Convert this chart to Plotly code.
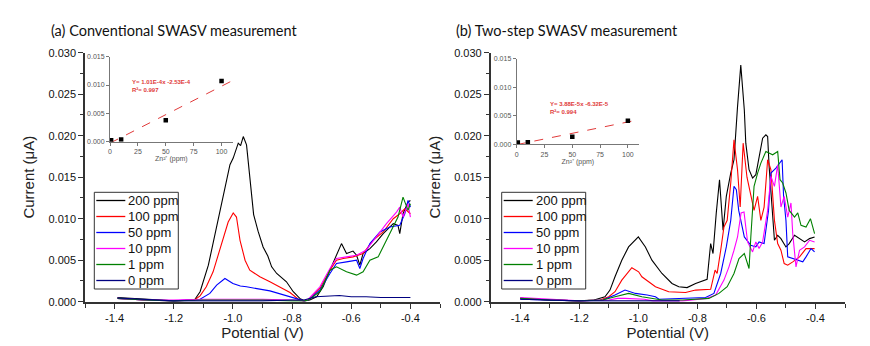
import plotly.graph_objects as go

# ---------------- data ----------------
LABELS = ["200 ppm", "100 ppm", "50 ppm", "10 ppm", "1 ppm", "0 ppm"]

# (a) Conventional SWASV : potential (V) / current (uA)
A200_X = [-1.39, -1.3, -1.2, -1.13, -1.111, -1.083, -1.061, -1.033, -1.01, -0.999, -0.982, -0.974, -0.965,
          -0.954, -0.94, -0.93, -0.915, -0.898, -0.882, -0.869, -0.852, -0.835, -0.819, -0.796, -0.774, -0.757,
          -0.74, -0.717, -0.695, -0.672, -0.655, -0.633, -0.616, -0.594, -0.582, -0.571, -0.56, -0.537, -0.515,
          -0.492, -0.458, -0.442, -0.436, -0.425, -0.408, -0.4]
A200_Y = [0.0005, 0.0003, 0.0001, 0.0002, 0.0012, 0.0044, 0.008, 0.0129, 0.0165, 0.0173, 0.0191, 0.0188, 0.0199,
          0.0189, 0.014, 0.0105, 0.0085, 0.0066, 0.0055, 0.0042, 0.0034, 0.0029, 0.0024, 0.0012, 0.0004, 0.0001,
          0.0002, 0.0006, 0.0018, 0.0038, 0.0052, 0.007, 0.0058, 0.0061, 0.0056, 0.0044, 0.0058, 0.0064, 0.0072,
          0.0082, 0.0094, 0.0092, 0.0082, 0.0106, 0.012, 0.0122]

A100_X = [-1.39, -1.3, -1.2, -1.13, -1.111, -1.09, -1.067, -1.038, -1.016, -0.999, -0.988, -0.976, -0.959,
          -0.943, -0.909, -0.875, -0.841, -0.807, -0.779, -0.762, -0.745, -0.706, -0.672, -0.65, -0.627, -0.594,
          -0.56, -0.526, -0.492, -0.458, -0.436, -0.419, -0.4]
A100_Y = [0.0004, 0.0002, 0.0001, 0.0002, 0.0007, 0.0018, 0.0036, 0.0072, 0.0096, 0.0107, 0.0102, 0.0074, 0.005,
          0.0038, 0.003, 0.0024, 0.0018, 0.0011, 0.0003, 0.0001, 0.0002, 0.0016, 0.0038, 0.005, 0.0052, 0.0054,
          0.0058, 0.0074, 0.0084, 0.01, 0.0106, 0.0112, 0.0106]

A50_X = [-1.39, -1.3, -1.2, -1.13, -1.111, -1.078, -1.055, -1.027, -1.0, -0.975, -0.954, -0.875, -0.807,
         -0.774, -0.76, -0.745, -0.706, -0.672, -0.65, -0.616, -0.582, -0.571, -0.56, -0.537, -0.503, -0.47,
         -0.436, -0.419, -0.408, -0.4]
A50_Y = [0.0004, 0.0002, 0.0001, 0.0002, 0.0003, 0.001, 0.002, 0.0028, 0.0022, 0.0019, 0.0018, 0.0013, 0.0006,
         0.0003, 0.0001, 0.0002, 0.0014, 0.0034, 0.0046, 0.0048, 0.005, 0.0040, 0.0052, 0.007, 0.0084, 0.009,
         0.0092, 0.0106, 0.0122, 0.0114]

A10_X = [-1.39, -1.3, -1.2, -1.1, -1.0, -0.9, -0.8, -0.76, -0.745, -0.706, -0.672, -0.65, -0.616, -0.582,
         -0.55, -0.515, -0.481, -0.447, -0.436, -0.425, -0.408, -0.4]
A10_Y = [0.0004, 0.0002, 0.0002, 0.0003, 0.0003, 0.0003, 0.0002, 0.0001, 0.0003, 0.0018, 0.004, 0.0052, 0.0054,
         0.0056, 0.0062, 0.0078, 0.0094, 0.0108, 0.0114, 0.0102, 0.0118, 0.0102]

A1_X = [-1.39, -1.3, -1.2, -1.1, -1.0, -0.9, -0.8, -0.76, -0.745, -0.706, -0.672, -0.65, -0.616, -0.582, -0.56,
        -0.537, -0.509, -0.481, -0.458, -0.442, -0.425, -0.408, -0.4]
A1_Y = [0.0004, 0.0002, 0.0001, 0.0002, 0.0002, 0.0002, 0.0001, 0.0001, 0.0002, 0.0012, 0.0038, 0.0042, 0.0036,
        0.0032, 0.0036, 0.005, 0.0054, 0.0074, 0.009, 0.0102, 0.0126, 0.011, 0.0118]

A0_X = [-1.39, -1.3, -1.2, -1.1, -1.0, -0.9, -0.8, -0.76, -0.72, -0.68, -0.64, -0.6, -0.55, -0.5, -0.45, -0.4]
A0_Y = [0.00045, 0.0003, 0.0001, 0.0001, 0.0001, 0.0001, 0.0002, 0.0002, 0.0006, 0.0007, 0.00075, 0.0006,
        0.0006, 0.0005, 0.0005, 0.0005]

# (b) Two-step SWASV
B200_X = [-1.4, -1.3, -1.2, -1.15, -1.113, -1.096, -1.079, -1.056, -1.033, -1.0, -0.976, -0.954, -0.92, -0.886,
          -0.863, -0.835, -0.806, -0.767, -0.755, -0.747, -0.736, -0.725, -0.713, -0.702, -0.687, -0.676, -0.664,
          -0.653, -0.641, -0.636, -0.625, -0.613, -0.602, -0.591, -0.579, -0.568, -0.562, -0.557, -0.545, -0.539,
          -0.528, -0.517, -0.5, -0.489, -0.471, -0.454, -0.437, -0.42, -0.403]
B200_Y = [0.0004, 0.0002, 0.0001, 0.0002, 0.0006, 0.0014, 0.003, 0.005, 0.0066, 0.0078, 0.0066, 0.005, 0.0034,
          0.0022, 0.0018, 0.0017, 0.0022, 0.0027, 0.007, 0.0058, 0.0107, 0.0147, 0.0086, 0.0127, 0.0155, 0.0171,
          0.0235, 0.0285, 0.0231, 0.0191, 0.0159, 0.0149, 0.0153, 0.0175, 0.0197, 0.0201, 0.0199, 0.0163, 0.011,
          0.0074, 0.008, 0.0076, 0.0066, 0.007, 0.008, 0.0076, 0.0072, 0.0076, 0.0078]

B100_X = [-1.4, -1.3, -1.2, -1.13, -1.1, -1.079, -1.056, -1.022, -0.999, -0.988, -0.965, -0.942, -0.897, -0.84,
          -0.806, -0.755, -0.74, -0.733, -0.721, -0.71, -0.699, -0.687, -0.676, -0.664, -0.655, -0.645, -0.632,
          -0.619, -0.608, -0.596, -0.585, -0.574, -0.562, -0.551, -0.539, -0.528, -0.517, -0.506, -0.494, -0.477,
          -0.454, -0.432, -0.403]
B100_Y = [0.0004, 0.0002, 0.0001, 0.0002, 0.0006, 0.0012, 0.0026, 0.0041, 0.0036, 0.003, 0.0024, 0.0018, 0.0012,
          0.0011, 0.0014, 0.0015, 0.0038, 0.0034, 0.0062, 0.009, 0.0098, 0.0143, 0.0195, 0.0159, 0.0114, 0.0191,
          0.015, 0.0127, 0.011, 0.0127, 0.0098, 0.0114, 0.0171, 0.0159, 0.0098, 0.007, 0.0062, 0.0046, 0.0044,
          0.0048, 0.0054, 0.0064, 0.0064]

B50_X = [-1.4, -1.3, -1.2, -1.12, -1.079, -1.045, -1.01, -0.97, -0.942, -0.93, -0.863, -0.772, -0.744, -0.721,
         -0.702, -0.687, -0.676, -0.668, -0.66, -0.641, -0.619, -0.602, -0.591, -0.574, -0.559, -0.551, -0.534,
         -0.52, -0.513, -0.508, -0.5, -0.494, -0.477, -0.46, -0.443, -0.432, -0.415, -0.403]
B50_Y = [0.0003, 0.0002, 0.0001, 0.0002, 0.0008, 0.0014, 0.001, 0.0008, 0.0006, 0.0003, 0.0004, 0.0005, 0.001,
         0.0034, 0.0066, 0.0098, 0.0139, 0.0135, 0.011, 0.0078, 0.0068, 0.0066, 0.0072, 0.007, 0.011, 0.0155,
         0.0161, 0.0167, 0.0171, 0.0127, 0.0098, 0.0054, 0.0052, 0.005, 0.0048, 0.0054, 0.0064, 0.006]

B10_X = [-1.4, -1.3, -1.2, -1.1, -1.07, -1.045, -0.98, -0.95, -0.85, -0.767, -0.738, -0.71, -0.693, -0.676,
         -0.664, -0.652, -0.642, -0.636, -0.63, -0.613, -0.602, -0.591, -0.579, -0.562, -0.551, -0.539, -0.528,
         -0.517, -0.506, -0.494, -0.483, -0.477, -0.466, -0.454, -0.437, -0.42, -0.403]
B10_Y = [0.0005, 0.0003, 0.0001, 0.0002, 0.0004, 0.0004, 0.0003, 0.0001, 0.0001, 0.0004, 0.0008, 0.0026, 0.0042,
         0.0062, 0.0078, 0.0107, 0.0108, 0.009, 0.0072, 0.006, 0.0072, 0.0064, 0.0072, 0.011, 0.0151, 0.0139,
         0.0165, 0.0114, 0.0127, 0.0102, 0.0119, 0.0082, 0.0042, 0.0062, 0.0066, 0.0074, 0.0072]

B1_X = [-1.4, -1.3, -1.2, -1.12, -1.079, -1.033, -0.988, -0.92, -0.85, -0.761, -0.727, -0.699, -0.676, -0.659,
        -0.641, -0.625, -0.619, -0.608, -0.596, -0.585, -0.568, -0.557, -0.545, -0.528, -0.52, -0.511, -0.5,
        -0.489, -0.471, -0.46, -0.449, -0.432, -0.417, -0.403]
B1_Y = [0.0004, 0.0002, 0.0001, 0.0002, 0.0006, 0.001, 0.0006, 0.0002, 0.0002, 0.0004, 0.001, 0.0018, 0.0034,
        0.0052, 0.0058, 0.004, 0.0078, 0.0139, 0.0155, 0.0167, 0.0181, 0.0179, 0.0177, 0.0181, 0.0147, 0.0143,
        0.0131, 0.011, 0.0102, 0.0107, 0.0092, 0.009, 0.01, 0.0082]

B0_X = [-1.4, -1.3, -1.2, -1.1, -1.0, -0.92, -0.86]
B0_Y = [0.0003, 0.0002, 0.0001, 0.0001, 0.0001, 0.0001, 0.0001]

# insets: calibration (Zn2+ ppm vs peak current)
CONC = [1, 10, 50, 100]
PEAK_A = [0.00025, 0.0004, 0.0038, 0.0107]
PEAK_B = [0.0003, 0.00035, 0.0013, 0.0041]
FIT_X = [0, 110]
FIT_A_Y = [-0.00025, 0.0108]
FIT_B_Y = [-0.00006, 0.0043]
EQ_A = ["Y= 1.01E-4x -2.53E-4", "R²= 0.997"]
EQ_B = ["Y= 3.88E-5x -6.32E-5", "R²= 0.994"]

X_TICKS = [-1.4, -1.2, -1.0, -0.8, -0.6, -0.4]
X_TICK_TEXT = ["-1.4", "-1.2", "-1.0", "-0.8", "-0.6", "-0.4"]
X_MINOR = [-1.5, -1.3, -1.1, -0.9, -0.7, -0.5, -0.3]
INSET_X_TICKS = [0, 25, 50, 75, 100]

# ---------------- styling ----------------
W, H = 870, 346
COLORS = ["#000000", "#ff0000", "#0000ff", "#ff00ff", "#008000", "#000080"]
AX = "#333333"
FONT = "Liberation Sans, Arial, sans-serif"
RED = "#e03a3a"


def fx(p):
    return p / W


def fy(p):
    return 1 - p / H


fig = go.Figure()

series_a = [(A200_X, A200_Y), (A100_X, A100_Y), (A50_X, A50_Y), (A10_X, A10_Y), (A1_X, A1_Y), (A0_X, A0_Y)]
series_b = [(B200_X, B200_Y), (B100_X, B100_Y), (B50_X, B50_Y), (B10_X, B10_Y), (B1_X, B1_Y), (B0_X, B0_Y)]

for (xs, ys), name, c in zip(series_a, LABELS, COLORS):
    fig.add_trace(go.Scatter(x=xs, y=ys, mode="lines", name=name, line=dict(color=c, width=1.1),
                             xaxis="x", yaxis="y", showlegend=False))
for (xs, ys), name, c in zip(series_b, LABELS, COLORS):
    fig.add_trace(go.Scatter(x=xs, y=ys, mode="lines", name=name, line=dict(color=c, width=1.1),
                             xaxis="x2", yaxis="y2", showlegend=False))

for ax_x, ax_y, fit_y, peaks in [("x3", "y3", FIT_A_Y, PEAK_A), ("x4", "y4", FIT_B_Y, PEAK_B)]:
    fig.add_trace(go.Scatter(x=FIT_X, y=fit_y, mode="lines", showlegend=False,
                             line=dict(color=RED, width=1, dash="dash"), xaxis=ax_x, yaxis=ax_y))
    fig.add_trace(go.Scatter(x=CONC, y=peaks, mode="markers", showlegend=False,
                             marker=dict(symbol="square", size=4.5, color="#000000"), xaxis=ax_x, yaxis=ax_y))

main_common = dict(showline=True, linecolor=AX, linewidth=1.6, ticks="outside", ticklen=5, tickwidth=1.3,
                   tickcolor=AX, showgrid=False, zeroline=False, automargin=False,
                   tickfont=dict(family=FONT, size=11, color="#111111"))
inset_common = dict(showline=True, linecolor="#777777", linewidth=1, ticks="outside", ticklen=3, tickwidth=1,
                    tickcolor="#777777", showgrid=False, zeroline=False, automargin=False,
                    tickfont=dict(family=FONT, size=7, color="#555555"))

ydom = [fy(301.7), fy(52.7)]


def main_x(dom, anchor):
    return dict(main_common, domain=dom, anchor=anchor, range=[-1.5, -0.3], tickmode="array",
                tickvals=X_TICKS, ticktext=X_TICK_TEXT,
                minor=dict(tickvals=X_MINOR, ticks="outside", ticklen=4, tickcolor=AX, tickwidth=1.3),
                title=dict(text="Potential (V)", font=dict(family=FONT, size=15, color="#222222"), standoff=4))


def main_y(anchor):
    return dict(main_common, domain=ydom, anchor=anchor, range=[0, 0.030], dtick=0.005, tick0=0,
                tickformat=".3f",
                minor=dict(dtick=0.0025, ticks="outside", ticklen=3, tickcolor=AX, tickwidth=1.3),
                title=dict(text="Current (μA)", font=dict(family=FONT, size=15, color="#222222"), standoff=10))


def inset_x(dom, anchor):
    return dict(inset_common, domain=dom, anchor=anchor, range=[0, 110], tickmode="array",
                tickvals=INSET_X_TICKS,
                title=dict(text="Zn²⁺ (ppm)", font=dict(family=FONT, size=7, color="#555555"), standoff=0))


def inset_y(dom, anchor):
    return dict(inset_common, domain=dom, anchor=anchor, range=[0, 0.015], dtick=0.005, tick0=0,
                tickformat=".3f")


annotations = [
    dict(text="(a) Conventional SWASV measurement", x=fx(49), y=fy(30.5), xref="paper", yref="paper",
         xanchor="left", yanchor="middle", showarrow=False, font=dict(family="Lato", size=14.5, color="#111111")),
    dict(text="(b) Two-step SWASV measurement", x=fx(454), y=fy(30.5), xref="paper", yref="paper",
         xanchor="left", yanchor="middle", showarrow=False, font=dict(family="Lato", size=14.5, color="#111111")),
]
for lines, x0, y0, dy in [(EQ_A, 130, 81.7, 8.3), (EQ_B, 548, 104, 8.3)]:
    for i, t in enumerate(lines):
        annotations.append(dict(text=t, x=fx(x0), y=fy(y0 + i * dy), xref="paper",
                                yref="paper", xanchor="left", yanchor="middle", showarrow=False,
                                font=dict(family=FONT, size=6, color=RED, weight="bold")))

# legend boxes (one per panel), drawn with the series names and colours
shapes = []
for left in (94.3, 501.7):
    shapes.append(dict(type="rect", xref="paper", yref="paper", x0=fx(left), x1=fx(left + 84),
                       y0=fy(289), y1=fy(192.3), line=dict(color="#333333", width=1), fillcolor="white",
                       layer="above"))
    for i, (name, c) in enumerate(zip(LABELS, COLORS)):
        yc = 200.5 + i * 16
        shapes.append(dict(type="line", xref="paper", yref="paper", x0=fx(left + 2), x1=fx(left + 31),
                           y0=fy(yc), y1=fy(yc), line=dict(color=c, width=1.3), layer="above"))
        annotations.append(dict(text=name, x=fx(left + 32), y=fy(yc), xref="paper", yref="paper",
                                xanchor="left", yanchor="middle", showarrow=False,
                                font=dict(family=FONT, size=13, color="#111111")))

fig.update_layout(
    width=W, height=H, autosize=False,
    margin=dict(l=0, r=0, t=0, b=0),
    paper_bgcolor="white", plot_bgcolor="rgba(0,0,0,0)",
    showlegend=False,
    xaxis=main_x([fx(85), fx(440)], "y"),
    yaxis=main_y("x"),
    xaxis2=main_x([fx(490.7), fx(845)], "y2"),
    yaxis2=main_y("x2"),
    xaxis3=inset_x([fx(110), fx(232.7)], "y3"),
    yaxis3=inset_y([fy(141.7), fy(56.7)], "x3"),
    xaxis4=inset_x([fx(516.7), fx(639)], "y4"),
    yaxis4=inset_y([fy(144.3), fy(58.5)], "x4"),
    annotations=annotations,
    shapes=shapes,
)

fig.write_html("out.html")
